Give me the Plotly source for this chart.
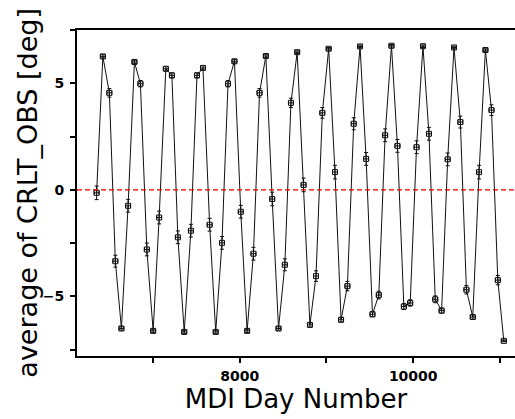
import plotly.graph_objects as go

day = [6350, 6422, 6497, 6566, 6636, 6713, 6786, 6855, 6929, 7002, 7071, 7148, 7218, 7287,
       7360, 7437, 7507, 7576, 7653, 7723, 7795, 7865, 7939, 8012, 8085, 8158, 8228, 8301,
       8374, 8447, 8520, 8590, 8662, 8736, 8809, 8879, 8952, 9025, 9098, 9168, 9241, 9314,
       9387, 9457, 9530, 9603, 9676, 9749, 9818, 9892, 9965, 10038, 10112, 10181, 10254,
       10327, 10397, 10470, 10543, 10613, 10686, 10759, 10832, 10902, 10975, 11044]

crlt = [-0.14, 6.26, 4.55, -3.35, -6.51, -0.75, 6.0, 4.98, -2.8, -6.62, -1.3, 5.68, 5.37,
        -2.23, -6.67, -1.92, 5.37, 5.72, -1.64, -6.67, -2.49, 4.98, 6.03, -1.03, -6.62, -3.0,
        4.55, 6.28, -0.43, -6.51, -3.52, 4.08, 6.46, 0.23, -6.34, -4.05, 3.61, 6.62, 0.83,
        -6.1, -4.52, 3.1, 6.73, 1.45, -5.84, -4.94, 2.56, 6.76, 2.06, -5.48, -5.31, 2.0,
        6.74, 2.63, -5.14, -5.67, 1.43, 6.68, 3.18, -4.69, -5.97, 0.83, 6.56, 3.74, -4.24,
        -7.09]

crlt_err = [0.32, 0.08, 0.2, 0.28, 0.08, 0.3, 0.08, 0.15, 0.3, 0.08, 0.3, 0.1, 0.12, 0.3,
            0.08, 0.3, 0.12, 0.1, 0.3, 0.08, 0.3, 0.15, 0.08, 0.3, 0.08, 0.3, 0.2, 0.08,
            0.32, 0.08, 0.28, 0.22, 0.06, 0.32, 0.1, 0.25, 0.25, 0.06, 0.32, 0.1, 0.22,
            0.28, 0.06, 0.3, 0.12, 0.18, 0.3, 0.06, 0.3, 0.14, 0.15, 0.3, 0.06, 0.3, 0.16,
            0.12, 0.3, 0.06, 0.28, 0.2, 0.1, 0.32, 0.06, 0.25, 0.22, 0.04]

day_err = 28

x_ticks = [8000, 10000]
y_ticks = [-5, 0, 5]

x_title = "MDI Day Number"
y_title = "average of CRLT_OBS [deg]"

fig = go.Figure()
fig.add_hline(y=0, line=dict(color="#e00000", width=1.3, dash="5px,3px"))
fig.add_trace(go.Scatter(
    x=day, y=crlt, mode="lines+markers",
    line=dict(color="#111111", width=1),
    marker=dict(symbol="square-open", size=5, color="#111111", line=dict(width=1)),
    error_y=dict(type="data", array=crlt_err, visible=True, color="#111111", thickness=1, width=2),
    error_x=dict(type="constant", value=day_err, visible=True, color="#111111", thickness=1, width=2),
    showlegend=False,
))

fig.update_layout(
    width=515, height=419,
    margin=dict(l=77, r=0, t=30, b=63),
    plot_bgcolor="white", paper_bgcolor="white",
    font=dict(family="DejaVu Sans", color="black"),
)
fig.update_xaxes(
    range=[6124, 11173],
    tickvals=x_ticks, ticktext=[str(v) for v in x_ticks],
    ticks="outside", ticklen=5, tickwidth=2, tickcolor="black",
    minor=dict(tickvals=[7000, 9000, 11000], ticks="outside", ticklen=5, tickwidth=2, tickcolor="black"),
    showline=True, linewidth=2, linecolor="black", mirror=True,
    showgrid=False, zeroline=False,
    tickfont=dict(family="DejaVu Sans", size=14, weight="bold"),
    ticklabelstandoff=1,
    title=dict(text=x_title, font=dict(family="DejaVu Sans", size=26), standoff=7),
    automargin=False,
)
fig.update_yaxes(
    range=[-7.8, 7.5],
    tickvals=y_ticks,
    ticks="outside", ticklen=5, tickwidth=2, tickcolor="black",
    minor=dict(tickvals=[-7.5, -2.5, 2.5, 7.5], ticks="outside", ticklen=5, tickwidth=2, tickcolor="black"),
    showline=True, linewidth=2, linecolor="black", mirror=False,
    showgrid=False, zeroline=False,
    tickfont=dict(family="DejaVu Sans", size=14, weight="bold"),
    ticklabelstandoff=3,
    automargin=False,
)
fig.add_annotation(
    text=y_title, textangle=-90,
    xref="paper", yref="paper", x=-0.075, y=0.5,
    xanchor="right", yanchor="middle", showarrow=False,
    font=dict(family="DejaVu Sans", size=27, color="black"),
)

fig.write_html("out.html")
